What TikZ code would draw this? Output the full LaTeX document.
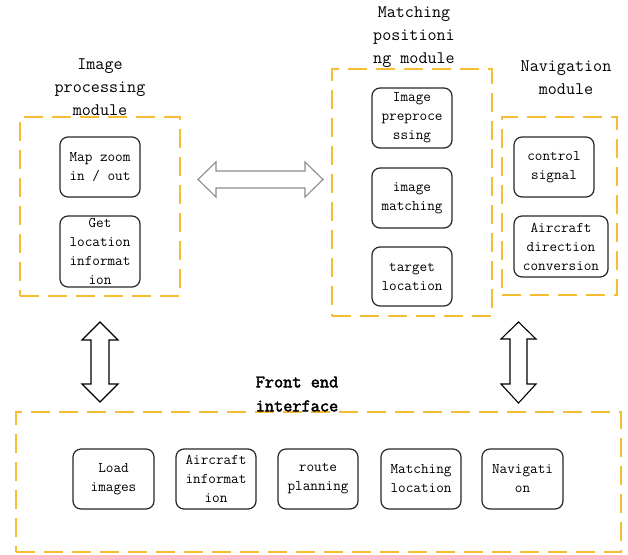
\documentclass[tikz,border=0pt]{standalone}
\usepackage{fontspec}
\setmainfont[AutoFakeBold=2.5]{Latin Modern Mono}
\usetikzlibrary{calc}
\definecolor{dashcol}{RGB}{245,190,50}
\definecolor{arrowgray}{RGB}{140,140,140}
\begin{document}
\begin{tikzpicture}[x=1pt,y=-1pt,
  module/.style={draw=dashcol, line width=1.4pt, dash pattern=on 19pt off 9pt, inner sep=0pt},
  item/.style={draw=black!85, rounded corners=8pt, line width=1.2pt, align=center, inner sep=0pt,
               font=\fontsize{14.8}{19}\selectfont},
  title/.style={align=center, inner sep=0pt, font=\fontsize{17.6}{23}\selectfont},
  blockarrow/.style={draw=black, line width=1.1pt, fill=white, line join=miter}]
\useasboundingbox (0,0) rectangle (628,554);

% Image processing module
\node[module, minimum width=160pt, minimum height=179pt] (ipmod) at (100,206.5) {};
\node[title] (iptitle) at (100,87) {Image\\processing\\module};
\node[item, minimum width=80pt, minimum height=60pt] (ip1) at (100,167) {Map zoom\\in / out};
\node[item, minimum width=80pt, minimum height=71pt] (ip2) at (100,251.5) {Get\\location\\informat\\ion};

% Matching positioning module
\node[module, minimum width=160pt, minimum height=247pt] (mpmod) at (412,192.5) {};
\node[title] (mptitle) at (414,37.5) {Matching\\positioni\\ng module};
\node[item, minimum width=80pt, minimum height=60pt] (mp1) at (412,118) {Image\\preproce\\ssing};
\node[item, minimum width=80pt, minimum height=60pt] (mp2) at (412,198) {image\\matching};
\node[item, minimum width=80pt, minimum height=59pt] (mp3) at (412,276.5) {target\\location};

% Navigation module
\node[module, minimum width=115pt, minimum height=178pt] (nvmod) at (559.5,206) {};
\node[title] (nvtitle) at (566,78) {Navigation\\module};
\node[item, minimum width=80pt, minimum height=60pt] (nv1) at (554,167) {control\\signal};
\node[item, minimum width=94pt, minimum height=61pt] (nv2) at (561,246.5) {Aircraft\\direction\\conversion};

% Front end interface
\node[module, minimum width=605pt, minimum height=140pt] (femod) at (318.5,482) {};
\node[title, font=\bfseries\fontsize{17.8}{24}\selectfont] (fetitle) at (297,394) {Front end\\interface};
\node[item, minimum width=81pt, minimum height=60pt] (fe1) at (113.5,479) {Load\\images};
\node[item, minimum width=80pt, minimum height=60pt] (fe2) at (216,479) {Aircraft\\informat\\ion};
\node[item, minimum width=80pt, minimum height=60pt] (fe3) at (318,479) {route\\planning};
\node[item, minimum width=80pt, minimum height=60pt] (fe4) at (421,479) {Matching\\location};
\node[item, minimum width=81pt, minimum height=60pt] (fe5) at (522.5,479) {Navigati\\on};

% Block arrow between image processing and matching modules
\coordinate (hL) at (198,179.5);
\coordinate (hR) at (323,179.5);
\draw[blockarrow, draw=arrowgray]
  (hL) -- ++(18,-17.5) -- ++(0,9) -- ($(hR)+(-18,-8.5)$) -- ++(0,-9) -- (hR)
  -- ++(-18,17.5) -- ++(0,-9) -- ($(hL)+(18,8.5)$) -- ++(0,9) -- cycle;

% Block arrow between image processing and front end
\coordinate (lT) at (100,322);
\coordinate (lB) at (100,402);
\draw[blockarrow]
  (lT) -- ++(18,18) -- ++(-9,0) -- ($(lB)+(9,-18)$) -- ++(9,0) -- (lB)
  -- ++(-18,-18) -- ++(9,0) -- ($(lT)+(-9,18)$) -- ++(-9,0) -- cycle;

% Block arrow between matching module and front end
\coordinate (rT) at (518.5,322);
\coordinate (rB) at (518.5,403);
\draw[blockarrow]
  (rT) -- ++(17.5,17) -- ++(-9,0) -- ($(rB)+(8.5,-19)$) -- ++(9,0) -- (rB)
  -- ++(-17.5,-19) -- ++(9,0) -- ($(rT)+(-8.5,17)$) -- ++(-9,0) -- cycle;
\end{tikzpicture}
\end{document}
